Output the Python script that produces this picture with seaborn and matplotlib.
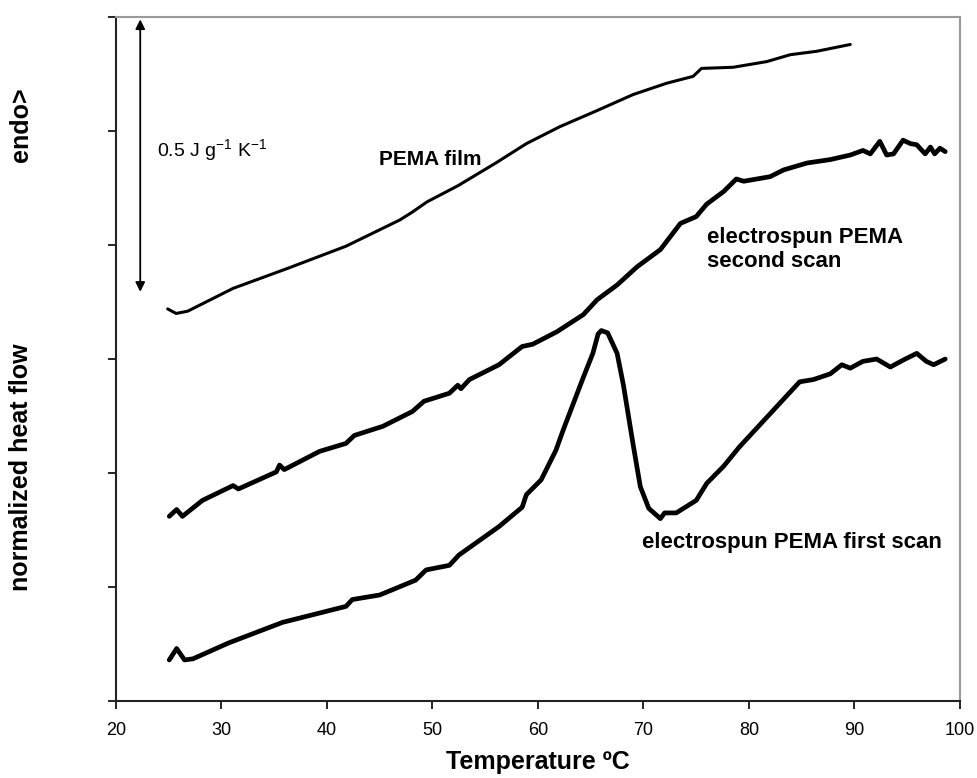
import matplotlib
matplotlib.use("Agg")
import matplotlib.pyplot as plt
import seaborn as sns

# DSC curves (temperature in degC, heat flow in tick units)
film_t = [24.9, 25.7, 26.8, 31.1, 36.4, 41.8, 46.9, 48.1, 49.5, 52.4, 56.0, 58.9,
          62.1, 65.6, 69.0, 72.2, 74.7, 75.5, 78.5, 81.7, 83.9, 86.4, 89.6]
film_q = [3.44, 3.40, 3.42, 3.62, 3.80, 3.99, 4.22, 4.29, 4.38, 4.52, 4.72, 4.89,
          5.04, 5.18, 5.32, 5.42, 5.48, 5.55, 5.56, 5.61, 5.67, 5.70, 5.76]

second_t = [25.05, 25.75, 26.3, 28.2, 31.1, 31.6, 35.2, 35.5, 35.95, 39.3, 41.8, 42.6,
            45.3, 48.1, 49.2, 51.6, 52.4, 52.7, 53.5, 56.3, 58.5, 59.5, 61.8, 64.3,
            65.6, 67.5, 69.4, 71.6, 73.5, 75.0, 76.0, 77.6, 78.8, 79.5, 82.0, 83.3,
            85.5, 87.7, 89.6, 90.8, 91.5, 92.4, 93.05, 93.7, 94.6, 95.3, 95.9, 96.7,
            97.2, 97.6, 98.1, 98.6]
second_q = [1.62, 1.68, 1.62, 1.76, 1.89, 1.86, 2.01, 2.07, 2.03, 2.19, 2.26, 2.33,
            2.41, 2.54, 2.63, 2.70, 2.77, 2.74, 2.82, 2.95, 3.11, 3.13, 3.24, 3.39,
            3.52, 3.65, 3.81, 3.96, 4.19, 4.25, 4.36, 4.47, 4.58, 4.56, 4.60, 4.66,
            4.72, 4.75, 4.79, 4.83, 4.80, 4.91, 4.79, 4.80, 4.92, 4.89, 4.88, 4.80,
            4.86, 4.80, 4.85, 4.82]

first_t = [25.05, 25.75, 26.5, 27.3, 30.7, 35.8, 41.8, 42.4, 45.0, 48.4, 49.4, 51.6,
           52.5, 56.3, 58.5, 58.9, 60.3, 61.7, 62.4, 64.3, 65.2, 65.7, 66.0, 66.6,
           67.5, 68.1, 69.0, 69.7, 70.5, 71.6, 72.0, 73.1, 75.0, 76.0, 77.6, 79.1,
           82.0, 84.8, 86.1, 87.7, 88.8, 89.6, 90.8, 92.1, 93.4, 94.6, 95.9, 96.8,
           97.5, 98.6]
first_q = [0.36, 0.46, 0.36, 0.37, 0.51, 0.69, 0.83, 0.89, 0.93, 1.06, 1.15, 1.19,
           1.28, 1.53, 1.70, 1.81, 1.94, 2.20, 2.38, 2.84, 3.05, 3.22, 3.25, 3.23,
           3.05, 2.77, 2.26, 1.88, 1.69, 1.60, 1.65, 1.65, 1.76, 1.91, 2.06, 2.23,
           2.52, 2.80, 2.82, 2.87, 2.95, 2.92, 2.98, 3.00, 2.93, 2.99, 3.05, 2.98,
           2.95, 3.00]

sns.set_style("white")
plt.rcParams['font.family'] = ['Liberation Sans', 'DejaVu Sans']
plt.rcParams['text.color'] = 'black'
plt.rcParams['axes.labelcolor'] = 'black'
plt.rcParams['xtick.color'] = 'black'
plt.rcParams['ytick.color'] = 'black'

fig = plt.figure(figsize=(9.77, 7.78), dpi=100)
ax = fig.add_axes([0.1187, 0.099, 0.8639, 0.879])

sns.lineplot(x=film_t, y=film_q, ax=ax, color="black", lw=2.2, sort=False, estimator=None)
sns.lineplot(x=second_t, y=second_q, ax=ax, color="black", lw=3.4, sort=False, estimator=None)
sns.lineplot(x=first_t, y=first_q, ax=ax, color="black", lw=3.4, sort=False, estimator=None)

ax.set_xlim(20, 100)
ax.set_ylim(0, 6)
ax.set_xticks(range(20, 101, 10))
ax.set_yticks(range(0, 7))
ax.set_yticklabels([])
ax.tick_params(axis="x", direction="out", length=6, width=1.2, labelsize=13, pad=9, bottom=True)
ax.tick_params(axis="y", direction="out", length=6, width=1.2, left=True)

for side in ["left", "bottom"]:
    ax.spines[side].set_color("#222222")
    ax.spines[side].set_linewidth(1.5)
for side in ["top", "right"]:
    ax.spines[side].set_color("#999999")
    ax.spines[side].set_linewidth(1.5)

ax.set_xlabel("Temperature ºC", fontsize=18, fontweight="bold", labelpad=8)
ax.set_ylabel("")
fig.text(0.021, 0.40, "normalized heat flow", rotation=90, ha="center", va="center",
         fontsize=18, fontweight="bold")
fig.text(0.021, 0.84, "endo>", rotation=90, ha="center", va="center",
         fontsize=18, fontweight="bold")

# scale bar
ax.annotate("", xy=(22.3, 3.59), xytext=(22.3, 5.98),
            arrowprops=dict(arrowstyle="<|-|>", color="black", lw=1.3,
                            mutation_scale=14, shrinkA=0, shrinkB=0))
ax.text(23.9, 4.83, "0.5 J g$^{\\mathregular{-1}}$ K$^{\\mathregular{-1}}$", fontsize=14,
        va="center", ha="left")

ax.text(49.8, 4.75, "PEMA film", fontsize=15, fontweight="bold", ha="center", va="center")
ax.text(76.0, 3.96, "electrospun PEMA\nsecond scan", fontsize=16, fontweight="bold",
        ha="left", va="center", linespacing=1.2)
ax.text(69.9, 1.39, "electrospun PEMA first scan", fontsize=16, fontweight="bold",
        ha="left", va="center")

fig.savefig("out.png", dpi=100)
